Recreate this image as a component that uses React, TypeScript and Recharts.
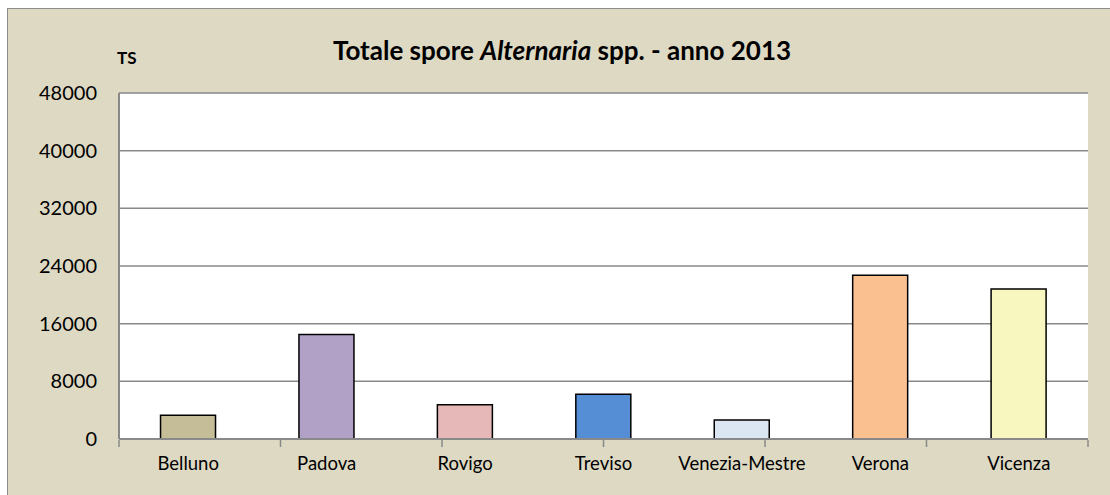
import { BarChart, Bar, Cell, XAxis, YAxis, CartesianGrid } from 'recharts';

const cities = ['Belluno', 'Padova', 'Rovigo', 'Treviso', 'Venezia-Mestre', 'Verona', 'Vicenza'];
const spores = [3300, 14500, 4750, 6200, 2650, 22700, 20800];
const barColors = ['#C4BD97', '#B2A1C7', '#E6B9B8', '#558ED5', '#DCE6F2', '#FAC090', '#F8F7BF'];
const yTicks = [0, 8000, 16000, 24000, 32000, 40000, 48000];
const boundaryTicks = [0, 1, 2, 3, 4, 5, 6, 7];

const data = cities.map((name, i) => ({ name, value: spores[i] }));

const font = 'Lato, "Open Sans", sans-serif';
const gridColor = '#898989';

export default function App() {
    return (
        <div style={{ position: 'absolute', left: 0, top: 0, width: 1110, height: 495, overflow: 'hidden', fontFamily: font }}>
            {/* outer chart frame */}
            <div
                style={{
                    position: 'absolute',
                    left: 7,
                    top: 8,
                    width: 1110,
                    height: 500,
                    background: '#DDD9C3',
                    border: '1.5px solid #8c8c8c',
                }}
            />
            <div
                style={{
                    position: 'absolute',
                    left: 0,
                    width: 1124,
                    top: 34,
                    textAlign: 'center',
                    fontWeight: 700,
                    fontSize: 26,
                    color: '#000',
                }}
            >
                Totale spore <i>Alternaria</i> spp. - anno 2013
            </div>
            <div style={{ position: 'absolute', left: 117, top: 47, fontWeight: 700, fontSize: 17, color: '#000' }}>TS</div>
            <div style={{ position: 'absolute', left: 0, top: 0 }}>
                <BarChart
                    width={1110}
                    height={495}
                    data={data}
                    margin={{ top: 93, right: 22, left: 59, bottom: 54 }}
                    barCategoryGap="30%"
                >
                    <CartesianGrid xAxisId="cat" vertical={false} stroke={gridColor} strokeWidth={1.5} fill="#ffffff" fillOpacity={1} />
                    {/* tick marks between categories */}
                    <XAxis
                        xAxisId="grid"
                        type="number"
                        domain={[0, 7]}
                        ticks={boundaryTicks}
                        tickFormatter={() => ''}
                        axisLine={false}
                        tickLine={{ stroke: gridColor, strokeWidth: 1.5 }}
                        tickSize={7}
                        height={1}
                    />
                    <XAxis
                        xAxisId="cat"
                        dataKey="name"
                        height={1}
                        tickLine={false}
                        tickSize={0}
                        tickMargin={18}
                        axisLine={{ stroke: gridColor, strokeWidth: 2 }}
                        tick={{ fill: '#000', fontSize: 18.5, fontFamily: font }}
                        interval={0}
                    />
                    <YAxis
                        width={60}
                        domain={[0, 48000]}
                        ticks={yTicks}
                        tickLine={false}
                        tickSize={0}
                        tickMargin={22}
                        axisLine={{ stroke: gridColor, strokeWidth: 2 }}
                        tick={{ fill: '#000', fontSize: 20, fontFamily: font }}
                    />
                    <Bar xAxisId="cat" dataKey="value" stroke="#000" strokeWidth={1.5} isAnimationActive={false}>
                        {data.map((d, i) => (
                            <Cell key={d.name} fill={barColors[i]} />
                        ))}
                    </Bar>
                </BarChart>
            </div>
        </div>
    );
}
